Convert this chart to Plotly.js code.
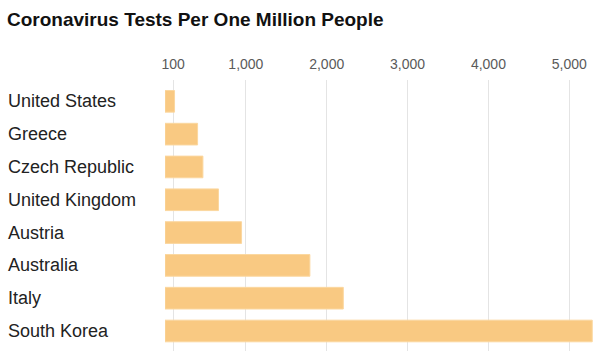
<!DOCTYPE html>
<html>
<head>
<meta charset="utf-8">
<script src="https://cdn.plot.ly/plotly-3.0.1.min.js"></script>
<style>html,body{margin:0;padding:0;background:#fff;}#chart{width:608px;height:351px;}</style>
</head>
<body>
<div id="chart"></div>
<script>
const countries = ["United States","Greece","Czech Republic","United Kingdom","Austria","Australia","Italy","South Korea"];
const testsPerMillion = [118, 403, 469, 662, 947, 1792, 2205, 5284];
const tickValues = [100, 1000, 2000, 3000, 4000, 5000];
const tickLabels = ["100","1,000","2,000","3,000","4,000","5,000"];

const trace = {
  type: "bar",
  orientation: "h",
  x: testsPerMillion,
  y: countries,
  marker: {color: "#f9c982", line: {color: "#fbd79f", width: 1}},
  width: 0.66,
  hoverinfo: "x+y"
};

const plotLeft = 165, plotRight = 8, W = 608;
const plotW = W - plotLeft - plotRight;

const annotations = countries.map(c => ({
  xref: "paper", yref: "y",
  x: -(plotLeft - 6) / plotW, y: c,
  xanchor: "left", yanchor: "middle",
  text: c, showarrow: false,
  font: {family: "Liberation Sans, Arial, sans-serif", size: 18, color: "#222"}
}));

const layout = {
  width: 608, height: 351,
  margin: {l: plotLeft, r: plotRight, t: 80, b: 0, pad: 0},
  paper_bgcolor: "#fff", plot_bgcolor: "#fff",
  title: {
    text: "<b>Coronavirus Tests Per One Million People</b>",
    x: 7 / W, xanchor: "left", xref: "container",
    y: 1 - 19 / 351, yanchor: "middle", yref: "container",
    font: {family: "Liberation Sans, Arial, sans-serif", size: 19, color: "#111"}
  },
  xaxis: {
    side: "top", range: [0, 5380],
    tickvals: tickValues, ticktext: tickLabels,
    ticks: "", showline: false, zeroline: false,
    showgrid: true, gridcolor: "#e4e4e4", gridwidth: 1,
    ticklabelstandoff: 7,
    tickfont: {family: "Liberation Sans, Arial, sans-serif", size: 14, color: "#5a5a5a"},
    fixedrange: true
  },
  yaxis: {
    type: "category", categoryorder: "array", categoryarray: countries,
    range: [7.61, -0.65],
    showticklabels: false, ticks: "", showgrid: false, zeroline: false, showline: false,
    fixedrange: true
  },
  annotations: annotations,
  showlegend: false
};

Plotly.newPlot("chart", [trace], layout, {displayModeBar: false, staticPlot: true});
</script>
</body>
</html>
